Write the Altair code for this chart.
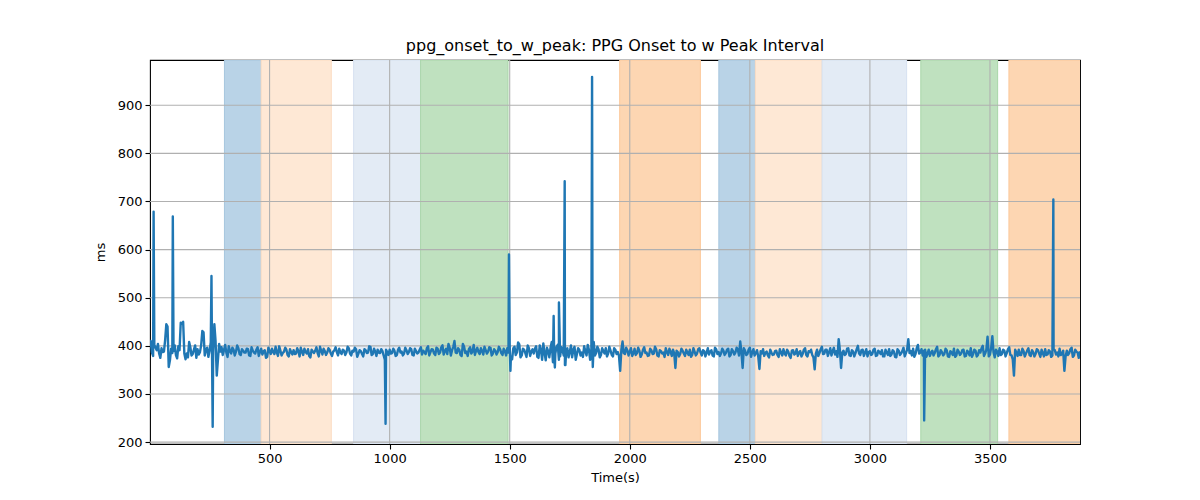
import pandas as pd
import altair as alt

T_STEP = 10
ms_on_mark = [
    398, 386, 402, 391, 384, 395, 388, 445, 356, 394, 389, 381, 399, 448, 450, 372, 376, 397, 383, 401,
    393, 387, 431, 380, 396, 389, 402, 445, 338, 404, 397, 391, 386, 399, 384, 392, 388, 395, 381, 390,
    386, 393, 379, 390, 384, 397, 388, 382, 391, 377, 389, 394, 383, 386, 399, 380, 388, 392, 378, 387,
    391, 384, 389, 396, 381, 387, 393, 376, 388, 390, 385, 398, 382, 389, 386, 392, 379, 391, 387, 394,
    383, 390, 386, 395, 380, 388, 393, 384, 389, 378, 391, 386, 398, 383, 388, 392, 385, 389, 371, 387,
    392, 385, 390, 381, 396, 388, 384, 391, 387, 393, 380, 389, 386, 397, 390, 383, 399, 387, 392, 381,
    394, 386, 401, 389, 383, 396, 391, 410, 385, 392, 379, 398, 388, 393, 384, 402, 390, 387, 395, 382,
    391, 388, 396, 384, 390, 387, 393, 381, 389, 395, 401, 372, 398, 386, 403, 380, 392, 377, 395, 388,
    384, 399, 375, 392, 405, 370, 389, 396, 366, 384, 402, 378, 391, 360, 395, 387, 376, 398, 383, 392,
    386, 399, 380, 392, 374, 408, 385, 393, 381, 389, 395, 384, 390, 378, 392, 387, 348, 409, 383, 391,
    388, 379, 394, 385, 390, 382, 397, 386, 380, 391, 384, 393, 378, 389, 386, 395, 381, 388, 392, 354,
    387, 383, 390, 379, 386, 392, 381, 388, 384, 395, 380, 389, 386, 382, 391, 378, 393, 387, 384, 390,
    385, 394, 381, 389, 386, 392, 409, 354, 390, 383, 396, 387, 380, 391, 352, 384, 379, 388, 376, 386,
    382, 390, 377, 386, 393, 380, 388, 375, 391, 384, 379, 389, 383, 395, 378, 387, 381, 351, 392, 385,
    398, 384, 392, 387, 380, 396, 389, 414, 354, 390, 383, 395, 379, 388, 385, 400, 381, 392, 386, 378,
    389, 383, 394, 380, 387, 391, 378, 386, 393, 382, 388, 376, 390, 384, 396, 385, 414, 389, 394, 383,
    402, 386, 380, 392, 384, 379, 390, 385, 398, 381, 387, 383, 391, 377, 386, 394, 380, 388, 384, 392,
    379, 387, 395, 383, 390, 381, 386, 400, 384, 419, 382, 420, 376, 388, 395, 383, 390, 385, 397, 380,
    338, 386, 392, 381, 389, 384, 395, 379, 387, 383, 391, 377, 385, 393, 382, 388, 380, 391, 386, 394,
    383, 348, 390, 385, 396, 380, 388, 375,
]
# ... and halfway between them (t=5,15,...)
ms_half_mark = [
    410, 379, 396, 404, 375, 387, 412, 440, 370, 385, 401, 374, 391, 446, 384, 384, 408, 380, 392, 375,
    382, 401, 428, 393, 377, 407, 389, 410, 372, 388, 381, 402, 377, 389, 396, 380, 401, 383, 393, 386,
    394, 380, 397, 386, 392, 379, 394, 389, 375, 396, 383, 387, 398, 379, 390, 385, 396, 381, 393, 382,
    383, 395, 378, 388, 394, 384, 379, 392, 385, 397, 378, 390, 394, 381, 395, 384, 388, 397, 380, 386,
    392, 381, 398, 384, 390, 396, 377, 391, 383, 393, 385, 399, 381, 394, 379, 386, 393, 380, 392, 381,
    384, 394, 379, 392, 386, 380, 396, 383, 395, 381, 394, 384, 392, 382, 387, 395, 380, 393, 384, 396,
    383, 397, 382, 394, 404, 380, 398, 386, 395, 381, 404, 385, 379, 397, 388, 381, 396, 383, 389, 398,
    384, 397, 380, 393, 382, 398, 385, 394, 380, 386, 378, 395, 381, 407, 376, 394, 385, 401, 379, 393,
    394, 377, 401, 371, 386, 396, 376, 408, 385, 398, 371, 397, 380, 389, 376, 401, 392, 371, 395, 380,
    377, 389, 402, 371, 383, 380, 398, 376, 395, 384, 378, 398, 381, 395, 383, 379, 392, 385, 396, 380,
    395, 384, 381, 396, 377, 392, 385, 379, 394, 383, 398, 380, 391, 384, 377, 387, 394, 379, 385, 390,
    378, 394, 384, 392, 381, 377, 395, 380, 393, 386, 391, 378, 395, 388, 380, 396, 383, 379, 394, 381,
    392, 378, 393, 382, 396, 380, 388, 395, 381, 392, 377, 393, 385, 378, 389, 393, 386, 380, 392, 381,
    389, 381, 393, 380, 384, 392, 379, 390, 382, 393, 386, 378, 392, 381, 389, 392, 376, 384, 379, 393,
    383, 392, 379, 395, 389, 382, 377, 392, 386, 381, 394, 380, 391, 378, 393, 384, 391, 379, 393, 387,
    381, 392, 379, 390, 383, 378, 392, 381, 379, 391, 377, 393, 381, 389, 378, 392, 385, 380, 377, 395,
    384, 393, 390, 377, 392, 386, 380, 393, 378, 391, 380, 394, 378, 389, 381, 377, 392, 381, 391, 378,
    390, 380, 377, 392, 378, 391, 395, 379, 392, 378, 396, 386, 392, 379, 381, 392, 378, 393, 381, 372,
    392, 379, 381, 394, 378, 390, 381, 391, 378, 393, 384, 392, 378, 381, 391, 377, 393, 382, 378, 381,
    390, 378, 381, 393, 377, 392, 386, 389,
]

# isolated outlier samples
spike_t = [17, 97, 258, 263, 983, 1497, 1503, 1683, 1688, 1705, 1729, 1732, 1843, 1846, 3226, 3764]
spike_ms = [679, 669, 545, 232, 238, 590, 348, 462, 355, 490, 742, 360, 959, 356, 245, 704]

# shaded phases
span_start = [312, 465, 850, 1129, 1958, 2371, 2523, 2801, 3212, 3579]
span_end = [465, 757, 1129, 1493, 2294, 2523, 2801, 3153, 3532, 3900]
span_kind = ["a", "b", "c", "d", "e", "a", "b", "c", "d", "e"]
kinds = ["a", "b", "c", "d", "e"]
kind_fill = ["#b9d3e7", "#fee8d5", "#e3ebf5", "#bfe1bf", "#fdd6b2"]
kind_edge = ["#a6c6de", "#fbdcc2", "#d6e1f0", "#a9d6a9", "#fcc89a"]

x_ticks = [500, 1000, 1500, 2000, 2500, 3000, 3500]
y_ticks = [200, 300, 400, 500, 600, 700, 800, 900]

series = pd.DataFrame({
    "t": [T_STEP * i for i in range(len(ms_on_mark))]
         + [T_STEP * i + T_STEP // 2 for i in range(len(ms_half_mark))]
         + spike_t,
    "ms": ms_on_mark + ms_half_mark + spike_ms,
}).sort_values("t")

spans = pd.DataFrame({"start": span_start, "end": span_end, "kind": span_kind})

xs = alt.Scale(domain=[2, 3875], nice=False, zero=False)
ys = alt.Scale(domain=[196, 994], nice=False, zero=False)
x_axis = alt.Axis(values=x_ticks, title="Time(s)", format="d")
y_axis = alt.Axis(values=y_ticks, title="ms", format="d")
font = "DejaVu Sans"

rects = alt.Chart(spans).mark_rect(clip=True, strokeWidth=1).encode(
    x=alt.X("start:Q", scale=xs, axis=x_axis),
    x2="end:Q",
    fill=alt.Fill("kind:N", scale=alt.Scale(domain=kinds, range=kind_fill), legend=None),
    stroke=alt.Stroke("kind:N", scale=alt.Scale(domain=kinds, range=kind_edge), legend=None),
)

grid_y = alt.Chart(pd.DataFrame({"v": y_ticks})).mark_rule(color="#b0b0b0", strokeWidth=1.1).encode(
    y=alt.Y("v:Q", scale=ys, axis=y_axis)
)
grid_x = alt.Chart(pd.DataFrame({"v": x_ticks})).mark_rule(color="#b0b0b0", strokeWidth=1.1).encode(
    x=alt.X("v:Q", scale=xs, axis=x_axis)
)

line = alt.Chart(series).mark_line(
    color="#1f77b4", strokeWidth=2.4, strokeJoin="round", clip=True
).encode(
    x=alt.X("t:Q", scale=xs, axis=x_axis),
    y=alt.Y("ms:Q", scale=ys, axis=y_axis),
)

chart = alt.layer(rects, grid_y, grid_x, line).properties(
    width=930,
    height=384,
    autosize="none",
    padding={"left": 142, "top": 52, "right": 112, "bottom": 48},
    title=alt.TitleParams(
        "ppg_onset_to_w_peak: PPG Onset to w Peak Interval",
        font=font, fontSize=16, fontWeight="normal", color="black", offset=5,
    ),
).configure_view(
    stroke="black", strokeWidth=1.1
).configure_axis(
    grid=False,
    domain=False,
    tickColor="black",
    tickSize=5,
    tickWidth=1.1,
    labelFont=font,
    labelFontSize=13,
    labelColor="black",
    labelPadding=3,
    titleFont=font,
    titleFontSize=13,
    titleFontWeight="normal",
    titleColor="black",
).configure_axisX(
    titlePadding=6
).configure_axisY(
    titlePadding=10
)

chart.save("out.html", embed_options={"renderer": "svg", "actions": False})
